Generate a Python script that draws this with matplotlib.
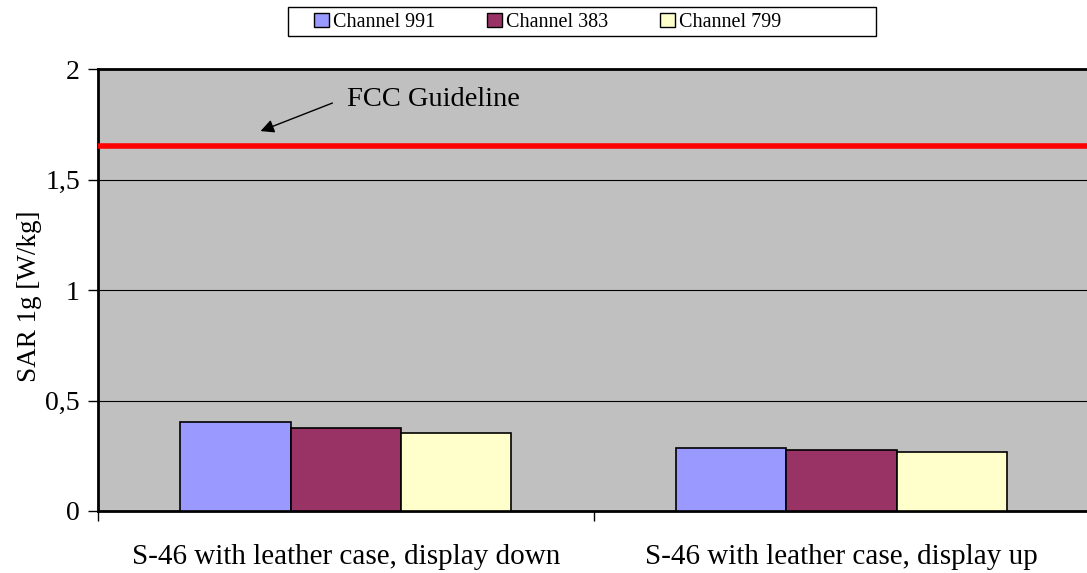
import matplotlib.pyplot as plt
import numpy as np
from matplotlib.patches import Patch, Rectangle
from matplotlib.ticker import FuncFormatter

# Data
categories = ["S-46 with leather case, display down", "S-46 with leather case, display up"]
series_names = ["Channel 991", "Channel 383", "Channel 799"]
ch991 = [0.403, 0.286]
ch383 = [0.374, 0.276]
ch799 = [0.352, 0.266]
fcc_limit = 1.65
y_ticks = [0, 0.5, 1, 1.5, 2]

colors = ["#9999FF", "#993366", "#FFFFCC"]

plt.rcParams['font.family'] = ['Liberation Serif', 'DejaVu Serif']

W, H = 1087, 573
fig = plt.figure(figsize=(W / 100, H / 100), dpi=100)
ax = fig.add_axes([98 / W, 1 - 511 / H, 1 - 98 / W + 0.002, (511 - 69) / H])
ax.set_facecolor("#C0C0C0")

x = np.arange(len(categories))
width = 0.2225
for i, (vals, col) in enumerate(zip([ch991, ch383, ch799], colors)):
    ax.bar(x + (i - 1) * width, vals, width, color=col, edgecolor="black",
           linewidth=1.2, zorder=3)

# FCC guideline line with label and arrow
ax.axhline(fcc_limit, color="#FF0000", linewidth=4, zorder=4)
ax.text(0.003, 1.862, "FCC Guideline", fontsize=20.5, va="center", ha="left")
ax.annotate("", xy=(-0.172, 1.719), xytext=(-0.027, 1.846),
            arrowprops=dict(arrowstyle="-|>", color="black", lw=1,
                            mutation_scale=20, shrinkA=0, shrinkB=0))

ax.set_xlim(-0.5, 1.5)
ax.set_ylim(0, 2)
ax.set_yticks(y_ticks)
ax.yaxis.set_major_formatter(FuncFormatter(lambda v, p: ("%g" % v).replace(".", ",")))
ax.grid(axis="y", color="black", linewidth=0.8, zorder=1)
ax.set_axisbelow(True)

ax.set_xticks([-0.5, 0.5, 1.5])
ax.set_xticklabels([])
ax.set_xticks(x, minor=True)
ax.set_xticklabels(categories, minor=True, fontsize=21)
ax.tick_params(axis="x", which="minor", length=0, pad=24)
ax.tick_params(axis="x", which="major", length=7, width=1, direction="out")
ax.tick_params(axis="y", length=7, width=1, direction="out", labelsize=20, pad=6)

ax.set_ylabel("SAR 1g [W/kg]", fontsize=19.5)
ax.yaxis.set_label_coords(-0.0566, 0.486)

for side in ["left", "bottom", "top"]:
    ax.spines[side].set_linewidth(2)
    ax.spines[side].set_color("black")
ax.spines["right"].set_visible(False)

# legend: Excel style box, wider than its entries
fig.patches.append(Rectangle((288 / W, 1 - 36 / H), (876 - 288) / W, 29 / H,
                             transform=fig.transFigure, facecolor="white",
                             edgecolor="black", linewidth=1))
handles = [Patch(facecolor=c, edgecolor="black", linewidth=1) for c in colors]
leg = fig.legend(handles, series_names, loc="center left", ncol=3,
                 bbox_to_anchor=(314 / W, 1 - 22.5 / H), fontsize=14.5,
                 frameon=False, handlelength=0.72, handleheight=0.72,
                 handletextpad=0.2, columnspacing=2.6, borderpad=0, borderaxespad=0)

fig.savefig("out.png", dpi=100)
